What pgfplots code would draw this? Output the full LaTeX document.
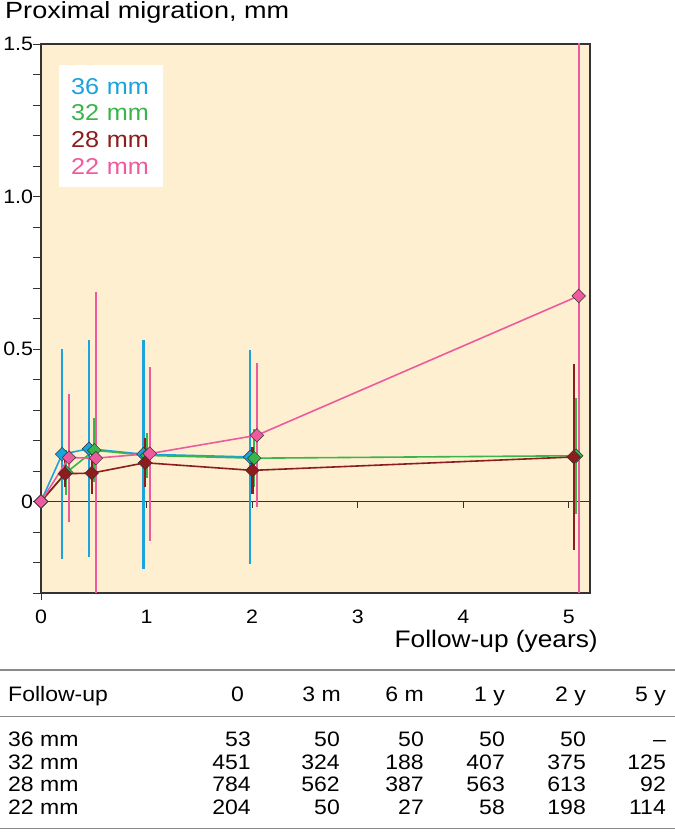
\documentclass[border=0pt]{standalone}
\usepackage{pgfplots}
\usepackage{pgfplotstable}
\pgfplotsset{compat=1.18}
\usepackage{fontspec}
\setmainfont{Liberation Sans}[FakeStretch=1.1]

\definecolor{c36}{HTML}{1AA3DC}
\definecolor{c32}{HTML}{3AB54A}
\definecolor{c28}{HTML}{8C1D1D}
\definecolor{c22}{HTML}{EE5A9E}
\definecolor{bgc}{HTML}{FEEFD0}
\definecolor{rulec}{HTML}{8A8A8A}
\definecolor{axc}{HTML}{333333}

\pgfplotstableread{
x y e
0 0 0
0.200 0.155 0.345
0.455 0.173 0.355
0.970 0.155 0.375
1.980 0.146 0.352
}\dA
\pgfplotstableread{
x y e
0 0 0
0.240 0.095 0.074
0.505 0.168 0.105
1.005 0.151 0.074
2.020 0.142 0.095
5.070 0.150 0.190
}\dB
\pgfplotstableread{
x y e
0 0 0
0.227 0.091 0.045
0.480 0.093 0.070
0.986 0.127 0.081
2.003 0.102 0.077
5.045 0.146 0.304
}\dC
\pgfplotstableread{
x y e
0 0 0
0.265 0.144 0.210
0.520 0.142 0.545
1.030 0.157 0.285
2.045 0.217 0.236
5.093 0.674 1.000
}\dD

\pgfplotsset{
  ser/.style={color=#1, line width=1.6bp, mark=square*, mark size=4.8bp,
    mark options={rotate=45, fill=#1, draw=axc, line width=0.5bp},
    error bars/.cd, y dir=both, y explicit,
    error bar style={line width=2.2bp, color=#1}, error mark=none},
}

\begin{document}
\begin{tikzpicture}[x=1bp,y=1bp]
\useasboundingbox (0,0) rectangle (675,833);
\begin{axis}[
  scale only axis, width=549bp, height=549bp,
  at={(41bp,240bp)}, anchor=south west,
  xmin=0, xmax=5.2, ymin=-0.3, ymax=1.5,
  axis background/.style={fill=bgc},
  axis line style={axc, line width=1.1bp},
  xtick={0,1,2,3,4,5}, xticklabels={0,1,2,3,4,5},
  xtick style={draw=none},
  ytick={0,0.5,1,1.5}, yticklabels={0,0.5,1.0,1.5},
  minor ytick={-0.3,-0.2,-0.1,0.1,0.2,0.3,0.4,0.6,0.7,0.8,0.9,1.1,1.2,1.3,1.4},
  ytick pos=left, tick align=outside,
  major tick length=8bp, minor tick length=8bp,
  tick style={axc, line width=0.8bp},
  tick label style={font=\fontsize{19.5}{20}\selectfont},
  /pgf/number format/assume math mode=true,
  xticklabel style={anchor=base, yshift=-23bp, inner sep=1bp},
  yticklabel style={anchor=east, xshift=3.5bp},
  legend image code/.code={},
  legend style={at={(rel axis cs:0.0328,0.9617)}, anchor=north west,
    draw=none, fill=white, inner xsep=12bp, inner ysep=7.6bp,
    font=\fontsize{23}{26}\selectfont, row sep=0pt,
    nodes={inner sep=0pt, text height=21.35bp, text depth=5.35bp, text width=80bp, align=left}},
  legend cell align=left,
]
\draw[axc, line width=1.1bp] (axis cs:0,0) -- (axis cs:5.2,0);
\draw[axc, line width=0.8bp] (axis cs:1,0) -- ([yshift=-7bp]axis cs:1,0);
\draw[axc, line width=0.8bp] (axis cs:2,0) -- ([yshift=-7bp]axis cs:2,0);
\draw[axc, line width=0.8bp] (axis cs:3,0) -- ([yshift=-7bp]axis cs:3,0);
\draw[axc, line width=0.8bp] (axis cs:4,0) -- ([yshift=-7bp]axis cs:4,0);
\draw[axc, line width=0.8bp] (axis cs:5,0) -- ([yshift=-7bp]axis cs:5,0);
\addplot[ser=c36] table[x=x,y=y,y error=e]{\dA};
\addlegendentry{\textcolor{c36}{36 mm}}
\addplot[ser=c32] table[x=x,y=y,y error=e]{\dB};
\addlegendentry{\textcolor{c32}{32 mm}}
\addplot[ser=c28] table[x=x,y=y,y error=e]{\dC};
\addlegendentry{\textcolor{c28}{28 mm}}
\addplot[ser=c22] table[x=x,y=y,y error=e]{\dD};
\addlegendentry{\textcolor{c22}{22 mm}}
\end{axis}
\draw[axc, line width=0.8bp] (41,240) -- (41,233);
\node[anchor=base west, inner sep=0pt, xscale=1.05, font=\fontsize{23.5}{26}\selectfont] at (5,814.7) {Proximal migration, mm};
\node[anchor=base east, inner sep=0pt, font=\fontsize{24}{28}\selectfont] at (598,185) {Follow-up (years)};
% table
\draw[rulec, line width=1.5bp] (0,163) -- (675,163);
\draw[rulec, line width=1.5bp] (0,116.5) -- (675,116.5);
\draw[rulec, line width=1.5bp] (0,4.5) -- (675,4.5);
\begin{scope}[every node/.style={inner sep=0pt, font=\fontsize{21}{24}\selectfont}]
\node[anchor=base west] at (8,131.3) {Follow-up};
\node[anchor=base east] at (244,131.3) {0};
\node[anchor=base east] at (341,131.3) {3 m};
\node[anchor=base east] at (424,131.3) {6 m};
\node[anchor=base east] at (505,131.3) {1 y};
\node[anchor=base east] at (586,131.3) {2 y};
\node[anchor=base east] at (666,131.3) {5 y};
\node[anchor=base west] at (8,86.3) {36 mm};
\node[anchor=base east] at (251,86.3) {53};
\node[anchor=base east] at (340,86.3) {50};
\node[anchor=base east] at (424,86.3) {50};
\node[anchor=base east] at (505,86.3) {50};
\node[anchor=base east] at (586,86.3) {50};
\node[anchor=base east] at (666,86.3) {--};
\node[anchor=base west] at (8,63.7) {32 mm};
\node[anchor=base east] at (251,63.7) {451};
\node[anchor=base east] at (340,63.7) {324};
\node[anchor=base east] at (424,63.7) {188};
\node[anchor=base east] at (505,63.7) {407};
\node[anchor=base east] at (586,63.7) {375};
\node[anchor=base east] at (666,63.7) {125};
\node[anchor=base west] at (8,41) {28 mm};
\node[anchor=base east] at (251,41) {784};
\node[anchor=base east] at (340,41) {562};
\node[anchor=base east] at (424,41) {387};
\node[anchor=base east] at (505,41) {563};
\node[anchor=base east] at (586,41) {613};
\node[anchor=base east] at (666,41) {92};
\node[anchor=base west] at (8,18.3) {22 mm};
\node[anchor=base east] at (251,18.3) {204};
\node[anchor=base east] at (340,18.3) {50};
\node[anchor=base east] at (424,18.3) {27};
\node[anchor=base east] at (505,18.3) {58};
\node[anchor=base east] at (586,18.3) {198};
\node[anchor=base east] at (666,18.3) {114};
\end{scope}
\end{tikzpicture}
\end{document}
